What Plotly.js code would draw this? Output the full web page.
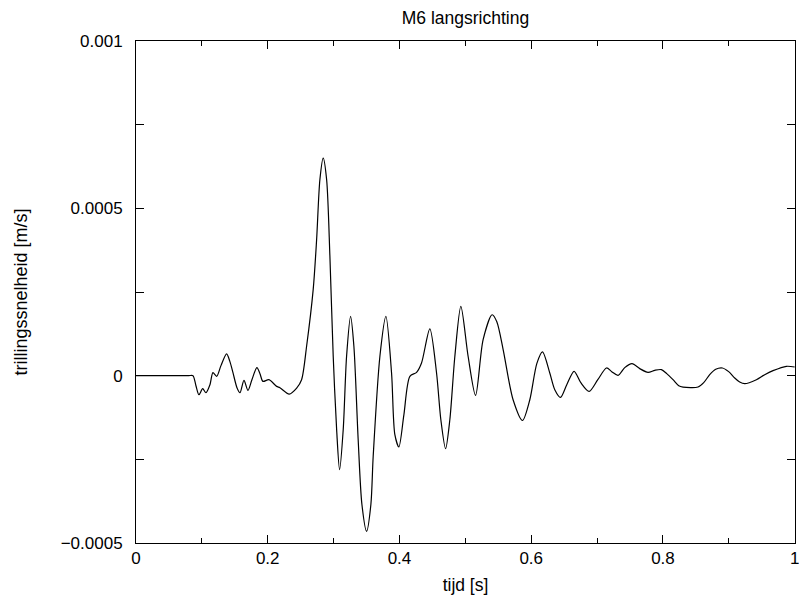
<!DOCTYPE html>
<html>
<head>
<meta charset="utf-8">
<script src="https://cdn.plot.ly/plotly-3.0.1.min.js"></script>
<style>html,body{margin:0;padding:0;background:#fff;}#chart{width:799px;height:595px;}</style>
</head>
<body>
<div id="chart"></div>
<script>
const tijd = [0, 0.03, 0.06, 0.08, 0.0865, 0.091, 0.0956, 0.1012, 0.1062, 0.1123, 0.1168, 0.1225, 0.129, 0.1376, 0.1426, 0.1472, 0.1533, 0.1578, 0.1639, 0.17, 0.176, 0.1836, 0.1882, 0.1927, 0.2018, 0.2135, 0.2185, 0.2326, 0.2439, 0.2514, 0.259, 0.269, 0.2742, 0.2792, 0.2842, 0.2894, 0.2944, 0.2994, 0.3046, 0.3091, 0.3146, 0.3197, 0.3258, 0.3308, 0.3373, 0.343, 0.3501, 0.3566, 0.3601, 0.3703, 0.3794, 0.388, 0.393, 0.3991, 0.4067, 0.4158, 0.426, 0.4335, 0.4461, 0.4563, 0.4628, 0.47, 0.4765, 0.4841, 0.4932, 0.5042, 0.5155, 0.527, 0.5407, 0.5478, 0.5574, 0.5725, 0.5868, 0.5979, 0.6085, 0.6171, 0.6282, 0.6358, 0.6445, 0.654, 0.6651, 0.6753, 0.6879, 0.7011, 0.7143, 0.7223, 0.7319, 0.742, 0.7531, 0.7648, 0.7774, 0.7876, 0.7977, 0.8058, 0.8153, 0.824, 0.8305, 0.8533, 0.8619, 0.871, 0.8801, 0.8903, 0.8998, 0.909, 0.9165, 0.9241, 0.9419, 0.9545, 0.9671, 0.9874, 1.0];
const snelheid = [0, 0, 0, 0, 0, -3.0e-5, -5.7e-5, -3.9e-5, -5.1e-5, -2.7e-5, 0.9e-5, -0.2e-5, 3.0e-5, 6.5e-5, 4.2e-5, 0.9e-5, -3.6e-5, -5.1e-5, -1.4e-5, -4.4e-5, -1.2e-5, 2.4e-5, 0.6e-5, -1.7e-5, -1.2e-5, -3.2e-5, -3.6e-5, -5.5e-5, -3.7e-5, -1.2e-5, 8.8e-5, 25.7e-5, 40.6e-5, 58.6e-5, 65.0e-5, 58.6e-5, 35.6e-5, 5.8e-5, -16.1e-5, -28.1e-5, -16.1e-5, 5.8e-5, 17.7e-5, 8.8e-5, -19.1e-5, -38.5e-5, -46.5e-5, -38.5e-5, -24.1e-5, 5.8e-5, 17.7e-5, 0.8e-5, -17.6e-5, -21.3e-5, -11.7e-5, -0.2e-5, 1.0e-5, 3.8e-5, 14.0e-5, 0.8e-5, -13.1e-5, -21.8e-5, -13.1e-5, 5.8e-5, 20.7e-5, 5.8e-5, -5.9e-5, 10.8e-5, 18.2e-5, 16.1e-5, 7.8e-5, -7.2e-5, -13.4e-5, -7.2e-5, 3.6e-5, 7.1e-5, 0.8e-5, -4.2e-5, -6.5e-5, -2.7e-5, 1.3e-5, -2.1e-5, -4.7e-5, -1.2e-5, 2.3e-5, 1.2e-5, 0.1e-5, 2.4e-5, 3.6e-5, 2.1e-5, 1.0e-5, 1.6e-5, 1.8e-5, 0.6e-5, -1.2e-5, -3.0e-5, -3.4e-5, -3.4e-5, -2.1e-5, 0.3e-5, 1.9e-5, 2.3e-5, 1.2e-5, -0.7e-5, -1.9e-5, -2.4e-5, -1.2e-5, 0.3e-5, 1.5e-5, 2.8e-5, 2.6e-5];
const xTickVals = [0, 0.2, 0.4, 0.6, 0.8, 1];
const xTickText = ['0', '0.2', '0.4', '0.6', '0.8', '1'];
const xMinorVals = [0.1, 0.3, 0.5, 0.7, 0.9];
const yTickVals = [-0.0005, 0, 0.0005, 0.001];
const yTickText = ['\u22120.0005', '0', '0.0005', '0.001'];

const font = {family: 'Liberation Sans, Arial, sans-serif', color: '#000'};
Plotly.newPlot('chart', [{
  x: tijd, y: snelheid, type: 'scatter', mode: 'lines',
  line: {color: '#000', width: 1.2, shape: 'spline', smoothing: 0.8},
  hoverinfo: 'skip'
}], {
  width: 799, height: 595,
  margin: {l: 136, r: 4, t: 41, b: 52},
  paper_bgcolor: '#fff', plot_bgcolor: '#fff',
  showlegend: false,
  font: Object.assign({size: 17}, font),
  title: {text: 'M6 langsrichting', font: Object.assign({size: 17.5}, font), x: 0.5, xref: 'paper', y: 0.97, yanchor: 'middle'},
  xaxis: {
    range: [0, 1.0005], tickmode: 'array', tickvals: xTickVals, ticktext: xTickText,
    showgrid: false, zeroline: false, showline: true, linecolor: '#000', linewidth: 1,
    mirror: 'ticks', ticks: 'inside', ticklen: 8, tickcolor: '#000', ticklabeloverflow: 'allow',
    minor: {tickmode: 'array', tickvals: xMinorVals, ticks: 'inside', ticklen: 5, tickcolor: '#000', showgrid: false},
    tickfont: Object.assign({size: 17}, font),
    title: {text: 'tijd [s]', font: Object.assign({size: 17.5}, font), standoff: 11}
  },
  yaxis: {
    range: [-0.0005, 0.001], tickmode: 'array', tickvals: yTickVals, ticktext: yTickText,
    showgrid: false, zeroline: false, showline: true, linecolor: '#000', linewidth: 1,
    mirror: 'ticks', ticks: 'inside', ticklen: 8, tickcolor: '#000', ticklabelstandoff: 9,
    minor: {tickmode: 'linear', tick0: 0, dtick: 0.00025, ticks: 'inside', ticklen: 8, tickcolor: '#000', showgrid: false},
    tickfont: Object.assign({size: 17}, font),
    title: {text: 'trillingssnelheid [m/s]', font: Object.assign({size: 18}, font), standoff: 28}
  }
}, {displayModeBar: false, staticPlot: true});
</script>
</body>
</html>
